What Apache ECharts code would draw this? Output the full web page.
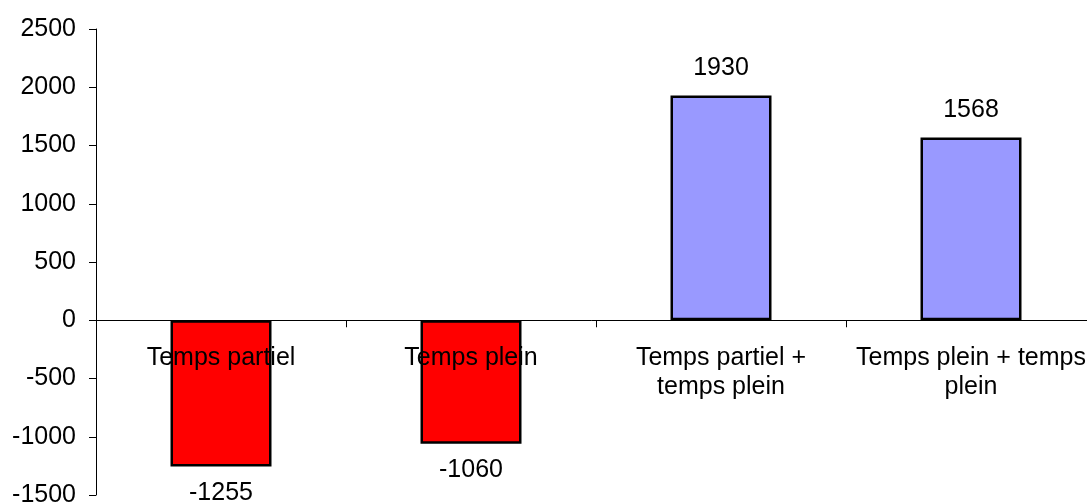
<!DOCTYPE html>
<html>
<head>
<meta charset="utf-8">
<script src="https://cdn.jsdelivr.net/npm/echarts@6/dist/echarts.min.js"></script>
<style>
html,body{margin:0;padding:0;background:#fff;}
#chart{width:1087px;height:504px;}
</style>
</head>
<body>
<div id="chart"></div>
<script>
const categories = ["Temps partiel", "Temps plein", "Temps partiel +\ntemps plein", "Temps plein + temps\nplein"];
const values = [-1255, -1060, 1930, 1568];
const yTicks = { min: -1500, max: 2500, interval: 500 };

const FONT = '"Liberation Sans", Arial, sans-serif';
const GRID_TOP = 29, GRID_BOTTOM = 9, H = 504;
const plotH = H - GRID_TOP - GRID_BOTTOM;
const zeroOffset = -plotH * (0 - yTicks.min) / (yTicks.max - yTicks.min);

const chart = echarts.init(document.getElementById('chart'), null, { renderer: 'canvas' });

chart.setOption({
  animation: false,
  backgroundColor: '#ffffff',
  grid: { left: 96, right: -9, top: GRID_TOP, bottom: GRID_BOTTOM, containLabel: false, outerBoundsMode: 'none' },
  xAxis: {
    type: 'category',
    data: categories,
    position: 'bottom',
    offset: zeroOffset,
    z: 10,
    axisLine: { onZero: false, lineStyle: { color: '#000', width: 1 } },
    axisTick: { show: true, inside: false, length: 7, lineStyle: { color: '#000' } },
    axisLabel: {
      show: true, interval: 0, margin: 23, color: '#000', fontSize: 25, fontFamily: FONT,
      lineHeight: 29
    },
    splitLine: { show: false }
  },
  yAxis: {
    type: 'value',
    min: yTicks.min, max: yTicks.max, interval: yTicks.interval,
    axisLine: { show: true, lineStyle: { color: '#000', width: 1 } },
    axisTick: { show: true, length: 7, lineStyle: { color: '#000' } },
    axisLabel: { margin: 20, color: '#000', fontSize: 25, fontFamily: FONT, formatter: v => String(v) },
    splitLine: { show: false }
  },
  series: [{
    type: 'bar',
    barWidth: 101,
    data: values.map(v => ({
      value: v,
      itemStyle: { color: v < 0 ? '#FF0000' : '#9999FF', borderColor: '#000', borderWidth: 2.5 },
      label: { position: v < 0 ? 'bottom' : 'top', distance: v < 0 ? 14 : 15 }
    })),
    label: { show: true, color: '#000', fontSize: 25, fontFamily: FONT },
    z: 1
  }]
});
</script>
</body>
</html>
